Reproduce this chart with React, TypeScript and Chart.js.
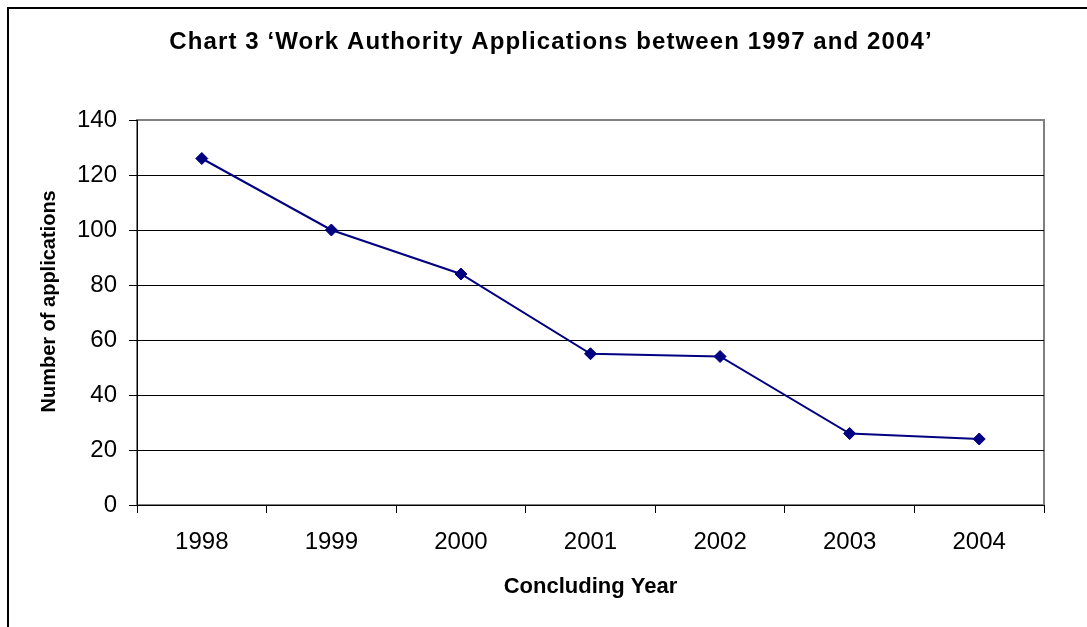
import React, { useEffect, useRef } from "react";
import { Chart, registerables } from "chart.js";

Chart.register(...registerables);

const TITLE = "Chart 3 \u2018Work Authority Applications between 1997 and 2004\u2019";
const X_TITLE = "Concluding Year";
const Y_TITLE = "    Number of applications";
const categories = ["1998", "1999", "2000", "2001", "2002", "2003", "2004"];
const applications = [126, 100, 84, 55, 54, 26, 24];
const Y_MIN = 0;
const Y_MAX = 140;
const Y_STEP = 20;

const FONT = "'Liberation Sans', Arial, sans-serif";

const framePlugin = {
  id: "frame",
  beforeDraw(chart: any) {
    const { ctx, chartArea } = chart;
    ctx.save();
    ctx.fillStyle = "#ffffff";
    ctx.fillRect(0, 0, chart.width, chart.height);
    // outer frame
    ctx.strokeStyle = "#000000";
    ctx.lineWidth = 2;
    ctx.beginPath();
    ctx.moveTo(8, chart.height + 5);
    ctx.lineTo(8, 8);
    ctx.lineTo(chart.width + 5, 8);
    ctx.stroke();
    // plot area border (gray)
    ctx.strokeStyle = "#808080";
    ctx.lineWidth = 2;
    ctx.strokeRect(chartArea.left, chartArea.top, chartArea.right - chartArea.left, chartArea.bottom - chartArea.top);
    // title
    ctx.fillStyle = "#000000";
    ctx.font = `bold 24px ${FONT}`;
    try {
      (ctx as any).letterSpacing = "1.1px";
    } catch (e) {}
    ctx.textAlign = "center";
    ctx.textBaseline = "alphabetic";
    ctx.fillText(TITLE, 551, 48.5);
    try {
      (ctx as any).letterSpacing = "0px";
    } catch (e) {}
    ctx.restore();
  },
};

export default function App() {
  const ref = useRef<HTMLCanvasElement>(null);
  useEffect(() => {
    if (!ref.current) return;
    const chart = new Chart(ref.current, {
      type: "line",
      data: {
        labels: categories,
        datasets: [
          {
            data: applications,
            borderColor: "#000080",
            backgroundColor: "#000080",
            borderWidth: 2,
            pointStyle: "rectRot",
            pointRadius: 6,
            pointBorderWidth: 1,
            pointBackgroundColor: "#000080",
            pointBorderColor: "#000080",
            tension: 0,
          },
        ],
      },
      options: {
        animation: false,
        responsive: false,
        maintainAspectRatio: false,
        layout: { padding: { left: 33, right: 43, top: 120, bottom: 23 } },
        plugins: { legend: { display: false }, tooltip: { enabled: false } },
        scales: {
          x: {
            offset: true,
            grid: {
              offset: true,
              drawOnChartArea: false,
              drawTicks: true,
              tickLength: 8,
              color: "#000000",
              lineWidth: 1,
            },
            border: { color: "#000000", width: 1 },
            ticks: { color: "#000000", font: { family: FONT, size: 24 }, padding: 15, maxRotation: 0 },
            title: { display: true, text: X_TITLE, color: "#000000", font: { family: FONT, size: 22, weight: "bold" } },
            afterFit: (scale: any) => {
              scale.height = 99;
            },
          },
          y: {
            min: Y_MIN,
            max: Y_MAX,
            ticks: { stepSize: Y_STEP, color: "#000000", font: { family: FONT, size: 24 }, padding: 12 },
            grid: {
              color: (c: any) => (c.tick && c.tick.value === Y_MAX ? "#808080" : "#000000"),
              lineWidth: 1,
              tickLength: 8,
              tickColor: "#000000",
            },
            border: { color: "#000000", width: 1 },
            title: { display: true, text: Y_TITLE, color: "#000000", font: { family: FONT, size: 20, weight: "bold" } },
            afterFit: (scale: any) => {
              scale.width = 104;
            },
          },
        },
      },
      plugins: [framePlugin],
    });
    return () => chart.destroy();
  }, []);
  return (
    <div style={{ position: "fixed", left: 0, top: 0, width: 1087, height: 627, background: "#fff" }}>
      <canvas ref={ref} width={1087} height={627} style={{ display: "block", width: 1087, height: 627 }} />
    </div>
  );
}
